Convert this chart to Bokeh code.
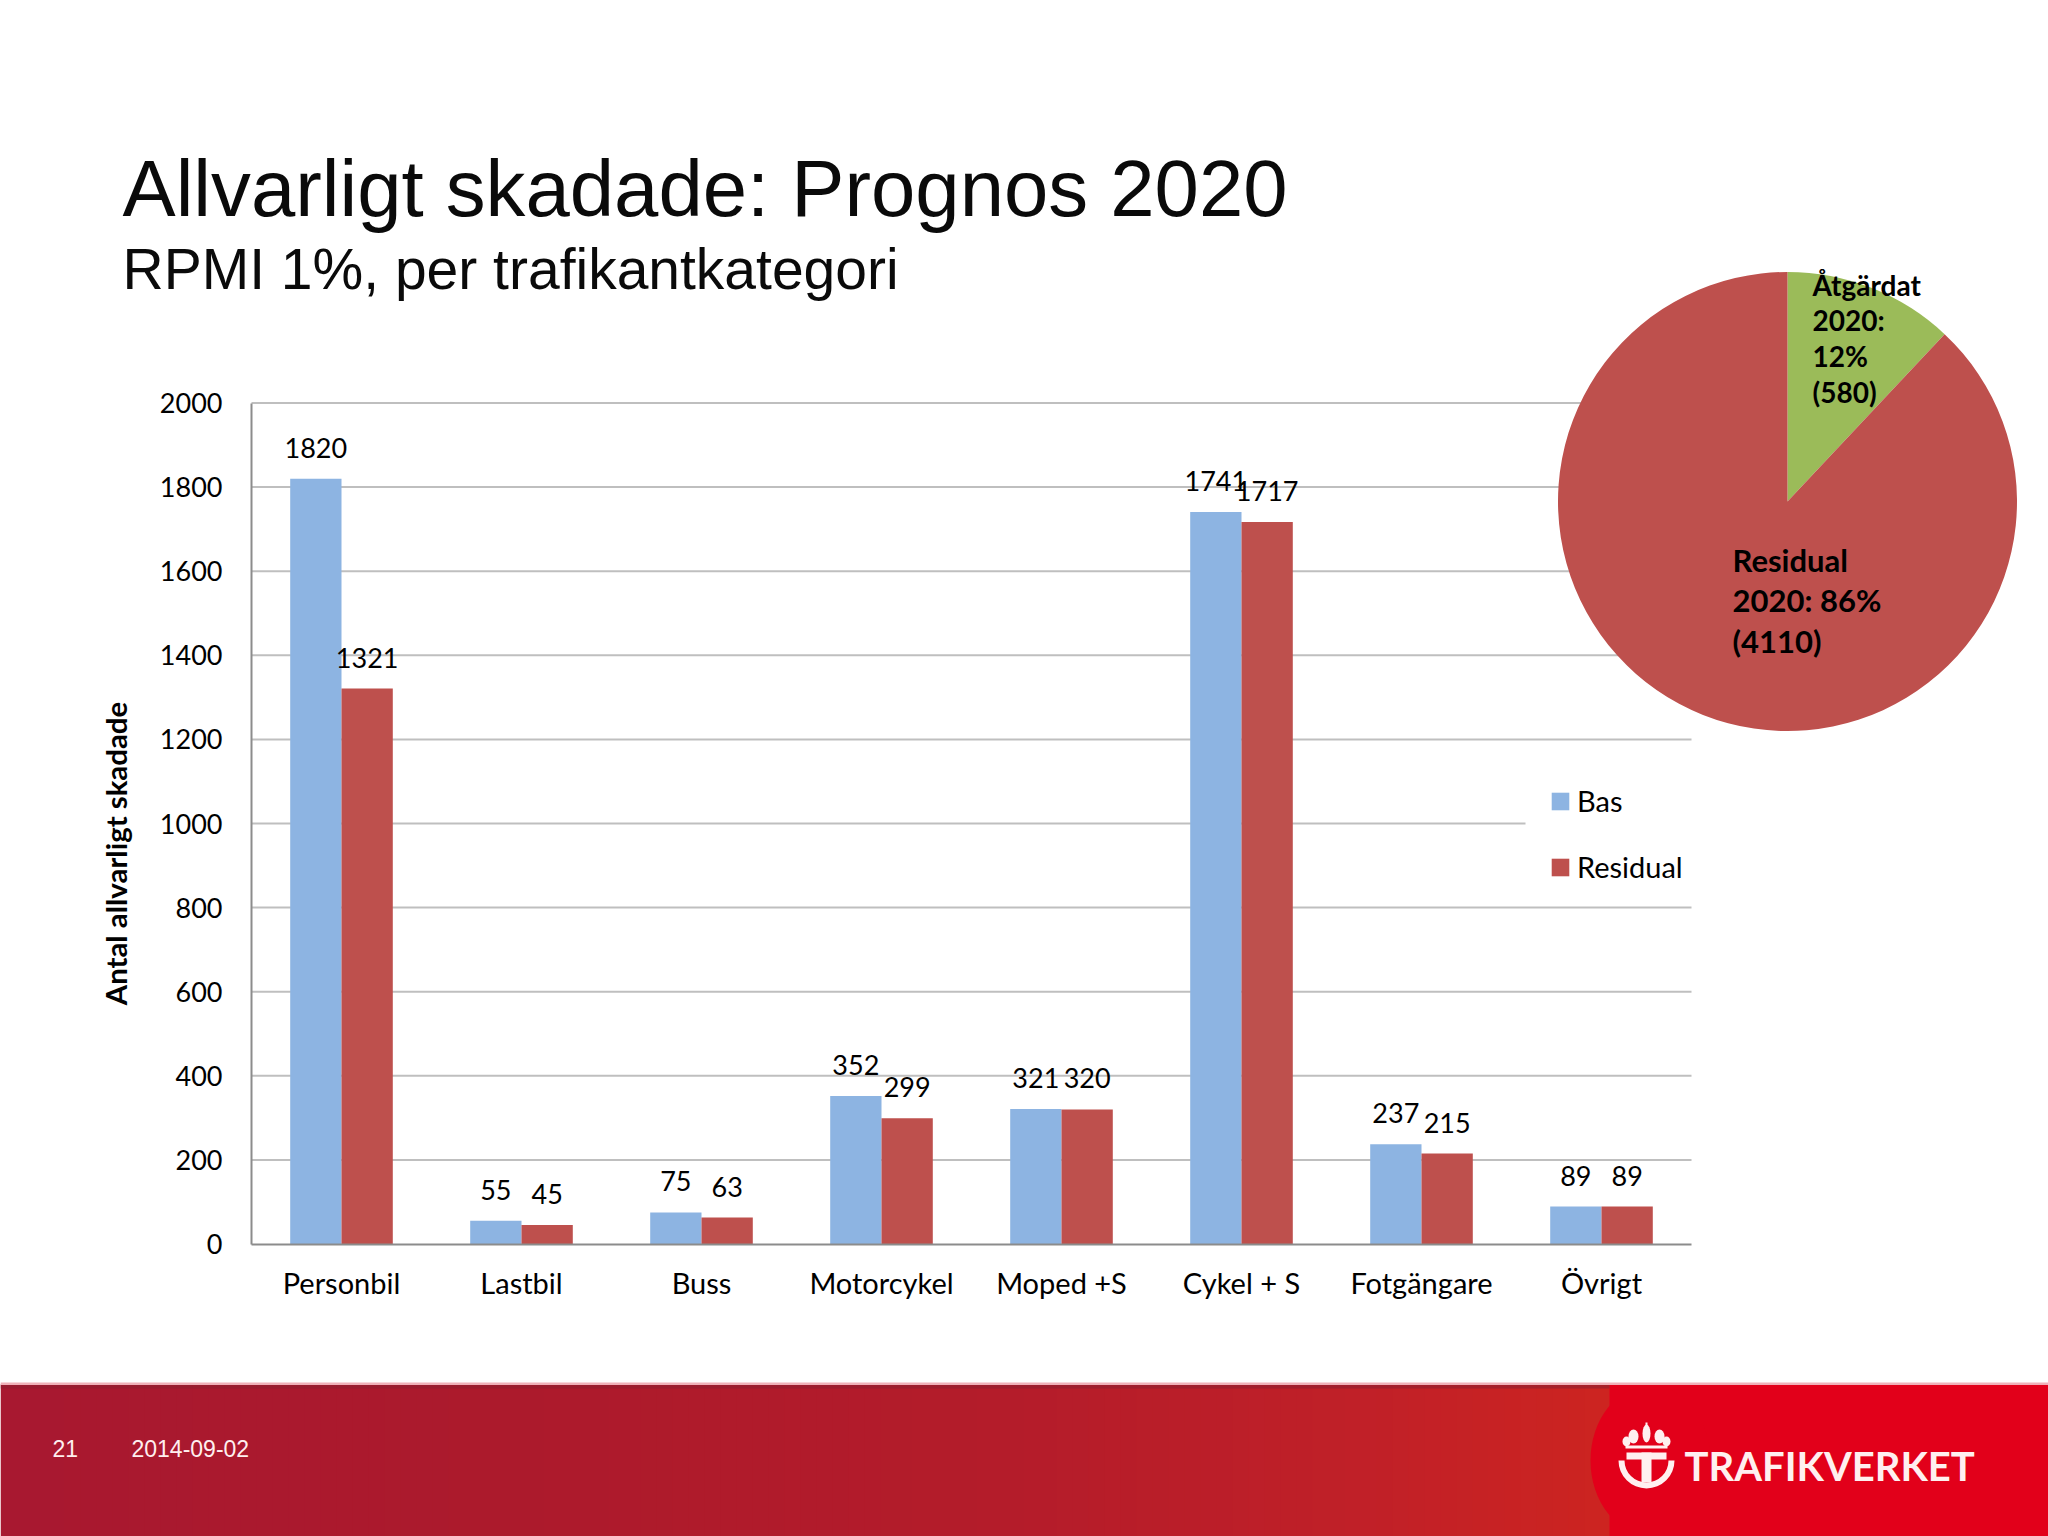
from math import pi
from bokeh.core.properties import value
from bokeh.embed import file_html
from bokeh.resources import INLINE
from bokeh.models import ColumnDataSource, FixedTicker, Legend, LegendItem, Range1d, Label
from bokeh.plotting import figure
from bokeh.transform import dodge

# ---------- data ----------
categories = ["Personbil", "Lastbil", "Buss", "Motorcykel", "Moped +S", "Cykel + S", "Fotgängare", "Övrigt"]
bas = [1820, 55, 75, 352, 321, 1741, 237, 89]
residual = [1321, 45, 63, 299, 320, 1717, 215, 89]
y_ticks = [0, 200, 400, 600, 800, 1000, 1200, 1400, 1600, 1800, 2000]
pie_labels = ["Åtgärdat 2020", "Residual 2020"]
pie_shares = [12, 88]
title_text = "Allvarligt skadade: Prognos 2020"
subtitle_text = "RPMI 1%, per trafikantkategori"
y_label = "Antal allvarligt skadade"
page_number = "21"
date_text = "2014-09-02"
logo_text = "TRAFIKVERKET"

# ---------- layout ----------
W, H = 2048, 1536
AX_L, AX_B = 251, 1243.5    # page pixel of the chart origin
PX_X, PX_Y = 180.0, 0.4205  # pixels per category, pixels per count
BAR = 51.3 / PX_X

BLUE, RED, GREEN = "#8DB4E2", "#BE504D", "#9BBB59"
GRID, AXIS = "#BFBFBF", "#8C8C8C"
CHART_FONT, SLIDE_FONT = "Lato", "Liberation Sans"

p = figure(width=W, height=H, output_backend="svg", toolbar_location=None, min_border=0,
           x_range=Range1d(-AX_L / PX_X, (W - AX_L) / PX_X),
           y_range=Range1d(-(H - AX_B) / PX_Y, AX_B / PX_Y),
           background_fill_color="#FFFFFF", border_fill_color="#FFFFFF", outline_line_color=None)
p.extra_x_ranges["page"] = Range1d(0, W)
p.extra_y_ranges["page"] = Range1d(H, 0)
PG = dict(x_range_name="page", y_range_name="page")

centers = [i + 0.5 for i in range(len(categories))]
p.grid.visible = False

# axes placed inside the frame at the chart origin
xa, ya = p.xaxis[0], p.yaxis[0]
xa.fixed_location = 0
ya.fixed_location = 0
xa.bounds = (0, len(categories))
ya.bounds = (0, 2000)
xa.ticker = FixedTicker(ticks=centers)
xa.major_label_overrides = {c: n for c, n in zip(centers, categories)}
ya.ticker = FixedTicker(ticks=y_ticks)
for a in (xa, ya):
    a.major_tick_line_color = None
    a.minor_tick_line_color = None
    a.axis_line_color = AXIS
    a.axis_line_width = 2
    a.major_label_text_font = CHART_FONT
    a.major_label_text_color = "#000000"
xa.major_label_text_font_size = "29px"
ya.major_label_text_font_size = "27px"
xa.major_label_standoff = 15
ya.major_label_standoff = 23

# gridlines (stop at the last category, under everything else)
p.segment(x0=0, x1=len(categories), y0=y_ticks[1:], y1=y_ticks[1:], line_color=GRID, line_width=2)
# white backing of the legend, which interrupts the 1000 gridline
p.quad(left=[1525], right=[1700], top=[790], bottom=[860], fill_color="#FFFFFF", line_color=None, **PG)

# bars and value labels
src = ColumnDataSource(dict(x=centers, bas=bas, residual=residual,
                            bas_t=[str(v) for v in bas], res_t=[str(v) for v in residual]))
r_bas = p.vbar(x=dodge("x", -BAR / 2, range=p.x_range), top="bas", width=BAR, source=src, fill_color=BLUE, line_color=None)
r_res = p.vbar(x=dodge("x", BAR / 2, range=p.x_range), top="residual", width=BAR, source=src, fill_color=RED, line_color=None)
lab = dict(source=src, text_font=value(CHART_FONT), text_font_size=value("27px"), text_color="#000000",
           text_align="center", text_baseline="middle", y_offset=-31)
p.text(x=dodge("x", -BAR / 2, range=p.x_range), y="bas", text="bas_t", **lab)
p.text(x=dodge("x", BAR / 2, range=p.x_range), y="residual", text="res_t", **lab)

# inset pie
cum, starts, ends = 0.0, [], []
total = sum(pie_shares)
for s in pie_shares:
    starts.append(pi / 2 - 2 * pi * cum / total)
    cum += s
    ends.append(pi / 2 - 2 * pi * cum / total)
pie = ColumnDataSource(dict(x=[1787] * 2, y=[501] * 2, s=starts, e=ends, c=[GREEN, RED], n=pie_labels))
p.wedge(x="x", y="y", radius=229.5, radius_units="screen", start_angle="s", end_angle="e", direction="clock",
        fill_color="c", line_color=None, source=pie, **PG)

def lines(x, y0, dy, texts, size):
    for i, t in enumerate(texts):
        p.add_layout(Label(x=x, y=y0 + i * dy, text=t, text_font=CHART_FONT, text_font_style="bold",
                           text_font_size=size, text_color="#000000", text_baseline="middle", **PG))

lines(1812, 284, 35.7, ["Åtgärdat", "2020:", "12%", "(580)"], "28px")
lines(1732, 559, 40.5, ["Residual", "2020: 86%", "(4110)"], "31px")

legend = Legend(items=[LegendItem(label="Bas", renderers=[r_bas]), LegendItem(label="Residual", renderers=[r_res])],
                location=(1549, H - 884), margin=0, padding=0, spacing=31, glyph_width=22, glyph_height=22,
                label_standoff=6, label_text_font=CHART_FONT, label_text_font_size="29px",
                label_text_color="#000000", border_line_color=None, background_fill_alpha=0.0)
p.add_layout(legend)

# slide titles
p.add_layout(Label(x=122, y=188, text=title_text, text_font=SLIDE_FONT, text_font_size="79.7px",
                   text_color="#0A0A0A", text_baseline="alphabetic", **PG))
p.add_layout(Label(x=122, y=268, text=subtitle_text, text_font=SLIDE_FONT, text_font_size="57px",
                   text_color="#0A0A0A", text_baseline="alphabetic", **PG))
p.add_layout(Label(x=115, y=853, text=y_label, text_font=CHART_FONT, text_font_style="bold", text_font_size="29.4px",
                   text_color="#000000", angle=pi / 2, text_align="center", text_baseline="middle", **PG))

# footer band: gradient strips, each overlapping to the right to avoid seams
stops = [(0, (168, 24, 48)), (500, (172, 26, 44)), (1000, (180, 28, 42)), (1350, (192, 32, 40)), (1609, (205, 36, 32))]
def grad(x):
    for (x0, c0), (x1, c1) in zip(stops, stops[1:]):
        if x <= x1:
            t = (x - x0) / (x1 - x0)
            return "#%02X%02X%02X" % tuple(round(a + (b - a) * t) for a, b in zip(c0, c1))
    return "#CD2420"
sx = list(range(0, 1609, 16))
p.quad(left=sx, right=[1612] * len(sx), top=[1384] * len(sx), bottom=[H] * len(sx),
       fill_color=[grad(x) for x in sx], line_color=None, **PG)
p.quad(left=[1609], right=[W], top=[1384], bottom=[H], fill_color="#E2001A", line_color=None, **PG)
p.ellipse(x=[1650], y=[1460], width=[120], height=[150], fill_color="#E2001A", line_color=None, **PG)
p.quad(left=[0], right=[1609], top=[1384], bottom=[1388], fill_color="#8E2030", fill_alpha=0.6, line_color=None, **PG)
p.quad(left=[0], right=[W], top=[1382], bottom=[1384.5], fill_color="#F0B0B8", line_color=None, **PG)

foot = dict(text_font=SLIDE_FONT, text_font_size="23px", text_color="#FFEFEF", text_baseline="middle", **PG)
p.add_layout(Label(x=52, y=1448, text=page_number, **foot))
p.add_layout(Label(x=131, y=1448, text=date_text, **foot))

# logo
WHITE = "#FFF0F0"
p.add_layout(Label(x=1684, y=1465, text=logo_text, text_font="Lato", text_font_style="bold", text_font_size="40px",
                   text_color=WHITE, text_baseline="middle", **PG))
p.annular_wedge(x=[1646], y=[1460], inner_radius=22, outer_radius=28, inner_radius_units="screen",
                outer_radius_units="screen", start_angle=[pi * 1.0], end_angle=[pi * 2.0], direction="anticlock",
                fill_color=WHITE, line_color=None, **PG)
p.quad(left=[1626, 1641], right=[1666, 1651], top=[1452, 1452], bottom=[1459, 1482], fill_color=WHITE, line_color=None, **PG)
p.ellipse(x=[1646, 1633, 1659, 1626, 1666], y=[1433, 1436, 1436, 1441, 1441], width=[8, 10, 10, 8, 8], height=[18, 14, 14, 10, 10],
          fill_color=WHITE, line_color=None, **PG)
p.quad(left=[1625, 1645], right=[1667, 1647], top=[1445, 1422], bottom=[1448, 1428], fill_color=WHITE, line_color=None, **PG)

open("out.html", "w").write(file_html(p, INLINE))
